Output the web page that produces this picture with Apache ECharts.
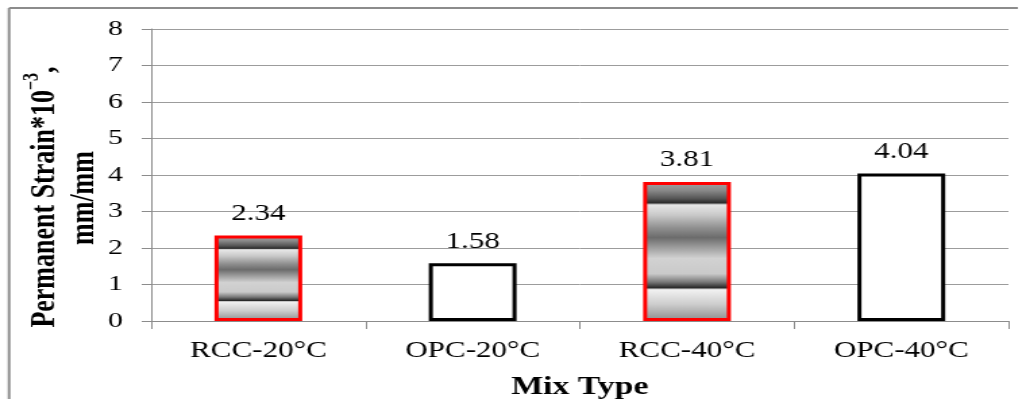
<!DOCTYPE html>
<html>
<head>
<meta charset="utf-8">
<script src="https://cdn.jsdelivr.net/npm/echarts@6/dist/echarts.min.js"></script>
<style>
html,body{margin:0;padding:0;background:#fff;overflow:hidden;width:1028px;height:399px;}
#wrap{width:1028px;height:399px;overflow:hidden;position:relative;}
#chart{width:762px;height:399px;transform:scaleX(1.35);transform-origin:0 0;position:absolute;left:0;top:0;}
</style>
</head>
<body>
<div id="wrap"><div id="chart"></div></div>
<script>
// ---- data ----
var categories = ['RCC-20°C', 'OPC-20°C', 'RCC-40°C', 'OPC-40°C'];
var strainValues = [2.34, 1.58, 3.81, 4.04];
var yTickValues = [0, 1, 2, 3, 4, 5, 6, 7, 8];

var SERIF = 'Liberation Serif';

var bandFill = new echarts.graphic.LinearGradient(0, 0, 0, 1, [
  {offset: 0.00, color: '#a4a4a4'},
  {offset: 0.06, color: '#8a8a8a'},
  {offset: 0.12, color: '#555555'},
  {offset: 0.15, color: '#2c2c2c'},
  {offset: 0.165, color: '#e8e8e8'},
  {offset: 0.24, color: '#c8c8c8'},
  {offset: 0.33, color: '#909090'},
  {offset: 0.40, color: '#6c6c6c'},
  {offset: 0.47, color: '#9c9c9c'},
  {offset: 0.55, color: '#d2d2d2'},
  {offset: 0.66, color: '#cacaca'},
  {offset: 0.72, color: '#787878'},
  {offset: 0.76, color: '#2a2a2a'},
  {offset: 0.775, color: '#f2f2f2'},
  {offset: 0.88, color: '#cdcdcd'},
  {offset: 1.00, color: '#8c8c8c'}
]);

var barData = strainValues.map(function (v, i) {
  var rcc = categories[i].indexOf('RCC') === 0;
  return {
    value: v,
    itemStyle: rcc
      ? {color: bandFill, borderColor: '#ff0000', borderWidth: 3}
      : {color: '#ffffff', borderColor: '#000000', borderWidth: 3}
  };
});

var chart = echarts.init(document.getElementById('chart'), null, {width: 762, height: 399});
chart.setOption({
  animation: false,
  backgroundColor: '#ffffff',
  textStyle: {fontFamily: SERIF},
  grid: {left: 112, right: 15, top: 29, bottom: 78, containLabel: false, outerBoundsMode: 'none'},
  xAxis: {
    type: 'category',
    data: categories,
    name: 'Mix Type',
    nameLocation: 'middle',
    nameGap: 54,
    nameTextStyle: {fontFamily: SERIF, fontWeight: 'bold', fontSize: 25, color: '#000'},
    axisLine: {show: true, lineStyle: {color: '#8c8c8c', width: 1}},
    axisTick: {show: true, length: 8, lineStyle: {color: '#8c8c8c'}},
    axisLabel: {fontFamily: SERIF, fontSize: 23, color: '#000', margin: 18}
  },
  yAxis: {
    type: 'value',
    min: yTickValues[0],
    max: yTickValues[yTickValues.length - 1],
    interval: 1,
    axisLine: {show: true, lineStyle: {color: '#8c8c8c', width: 1}},
    axisTick: {show: true, length: 7, lineStyle: {color: '#8c8c8c'}},
    axisLabel: {fontFamily: SERIF, fontSize: 22, color: '#000', margin: 21},
    splitLine: {show: true, lineStyle: {color: '#9c9c9c', width: 1}}
  },
  series: [{
    type: 'bar',
    data: barData,
    barWidth: 65,
    label: {
      show: true,
      position: 'top',
      distance: 10,
      fontFamily: SERIF,
      fontSize: 23,
      color: '#000',
      formatter: function (p) { return p.value.toFixed(2); }
    }
  }],
  graphic: [
    {type: 'line', shape: {x1: 6.7, y1: 8, x2: 6.7, y2: 420}, style: {stroke: '#8c8c8c', lineWidth: 2}, silent: true},
    {type: 'line', shape: {x1: 6.7, y1: 8, x2: 754, y2: 8}, style: {stroke: '#8c8c8c', lineWidth: 2}, silent: true},
    {
      type: 'text', x: 31, y: 197, rotation: Math.PI / 2,
      style: {
        x: 0, y: 0,
        text: '{b|Permanent Strain*10}{s|−3}{b|,}',
        align: 'center', verticalAlign: 'middle',
        rich: {
          b: {fontFamily: SERIF, fontWeight: 'bold', fontSize: 26, fill: '#000', verticalAlign: 'bottom', lineHeight: 30},
          s: {fontFamily: SERIF, fontWeight: 'bold', fontSize: 16, fill: '#000', verticalAlign: 'top', lineHeight: 30}
        }
      }
    },
    {
      type: 'text', x: 62, y: 198, rotation: Math.PI / 2,
      style: {
        x: 0, y: 0, text: 'mm/mm', align: 'center', verticalAlign: 'middle',
        fontFamily: SERIF, fontWeight: 'bold', fontSize: 26, fill: '#000'
      }
    }
  ]
});
</script>
</body>
</html>
